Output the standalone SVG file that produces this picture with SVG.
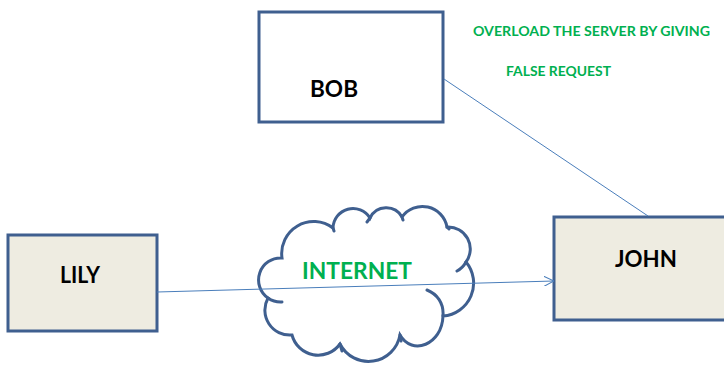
<svg xmlns="http://www.w3.org/2000/svg" width="724" height="365" viewBox="0 0 724 365">
<defs>
<style>
.box{stroke:#3F5F8F;stroke-width:3}
.lbl{font-family:Lato,"Liberation Sans",sans-serif;font-weight:bold;fill:#000}
.grn{font-family:Lato,"Liberation Sans",sans-serif;font-weight:bold;fill:#00B050}
.cl{fill:none;stroke:#3F5F8F;stroke-width:3;stroke-linecap:round}
.conn{fill:none;stroke:#4A7EBB;stroke-width:1}
</style>
<marker id="arr" viewBox="0 0 10 10" refX="10" refY="5" markerWidth="10" markerHeight="10" markerUnits="userSpaceOnUse" orient="auto">
<path d="M0,0 L10,5 L0,10" fill="none" stroke="#4A7EBB" stroke-width="1"/>
</marker>
</defs>
<rect width="724" height="365" fill="#fff"/>
<g id="bob">
<rect class="box" x="259" y="12" width="184" height="110" fill="#fff"/>
<text class="lbl" x="334" y="97" font-size="23" text-anchor="middle" textLength="48" lengthAdjust="spacingAndGlyphs">BOB</text>
</g>
<g id="note">
<text class="grn" x="473" y="36" font-size="14" textLength="237" lengthAdjust="spacingAndGlyphs">OVERLOAD THE SERVER BY GIVING</text>
<text class="grn" x="506" y="76" font-size="14" textLength="105" lengthAdjust="spacingAndGlyphs">FALSE REQUEST</text>
</g>
<g id="lily">
<rect class="box" x="8" y="235" width="149" height="96" fill="#EEECE1"/>
<text class="lbl" x="80" y="283" font-size="23" text-anchor="middle" textLength="40" lengthAdjust="spacingAndGlyphs">LILY</text>
</g>
<g id="john">
<rect class="box" x="554" y="217" width="190" height="103" fill="#EEECE1"/>
<text class="lbl" x="646" y="267" font-size="22" text-anchor="middle" textLength="62" lengthAdjust="spacingAndGlyphs">JOHN</text>
</g>
<g id="internet">
<path class="cl" fill="#fff" style="fill:#fff" d="M 268 298 A 22 22 0 0 1 282 258 A 32 32 0 0 1 333 228 A 20 20 0 0 1 370 218 A 18 18 0 0 1 402 217 A 25 25 0 0 1 447 227 A 22 22 0 0 1 466 262 A 33 33 0 0 1 443 316 C 442 345 412 356 400 335 A 32 32 0 0 1 340 344 A 27 27 0 0 1 292 335 A 25 25 0 0 1 268 298 Z"/>
<path class="cl" d="M 268 298 A 22 22 0 0 0 282 302 M 466 262 A 22 22 0 0 1 457 271 M 443 316 C 444 303 437 294 427 290 M 400 335 L 401 341 M 340 344 L 342 351 M 333 228 L 334 231 M 370 218 L 367 222 M 402 217 L 403 220 M 447 227 L 449 229"/>
<text class="grn" x="357" y="279" font-size="22" text-anchor="middle" textLength="110" lengthAdjust="spacingAndGlyphs">INTERNET</text>
</g>
<g id="connectors">
<path class="conn" d="M 157 292 L 554 281" marker-end="url(#arr)"/>
<path class="conn" d="M 444 79 L 648 216"/>
</g>
</svg>
